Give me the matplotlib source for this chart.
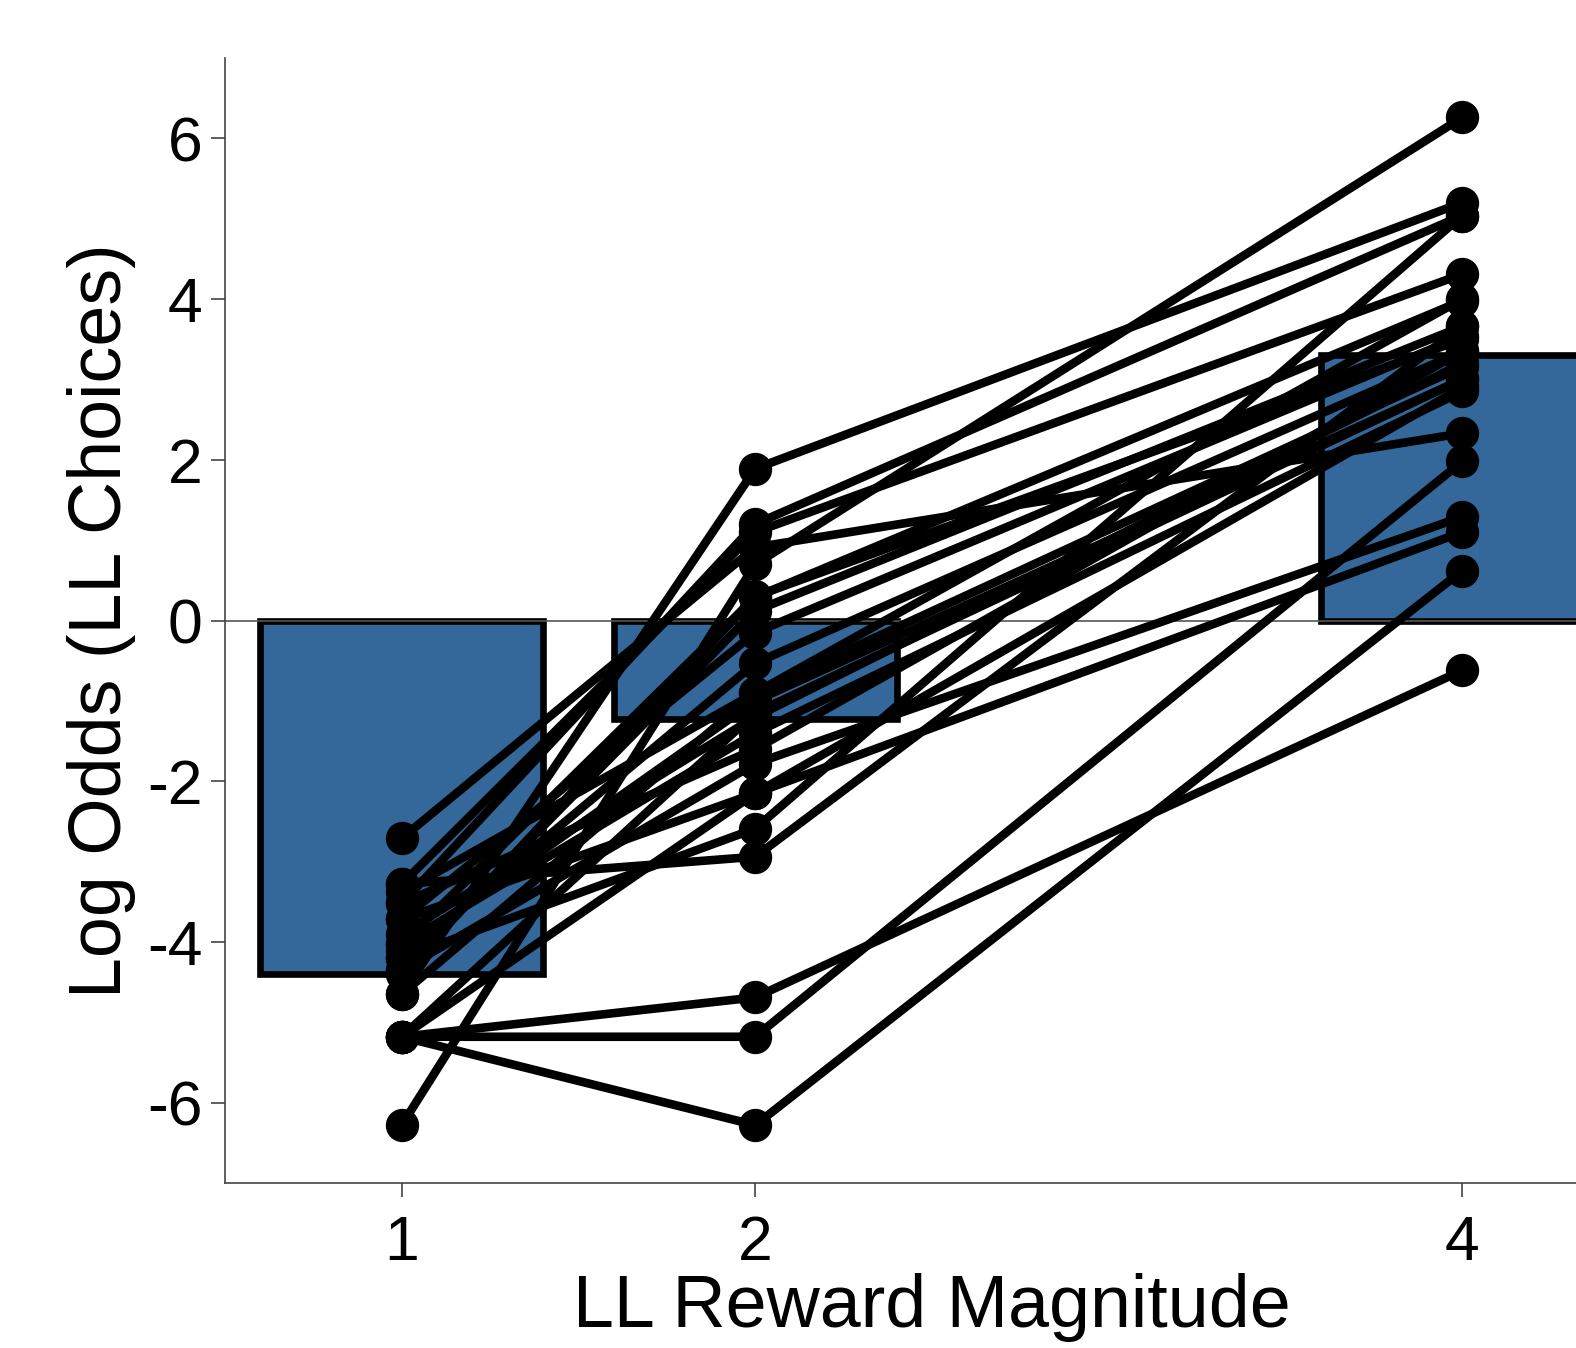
import matplotlib
matplotlib.use("Agg")
import matplotlib.pyplot as plt
import numpy as np

plt.rcParams['font.family'] = ['Liberation Sans', 'DejaVu Sans']
plt.rcParams['axes.unicode_minus'] = False

magnitudes = [1, 2, 4]
tick_labels = ["1", "2", "4"]
mean_log_odds = [-4.4, -1.23, 3.3]

# individual subjects: log odds at magnitude 1, 2, 4
subj_m1 = [-4.65, -3.52, -6.28, -2.71, -3.28, -4.03, -4.35, -3.72, -4.20, -3.38,
           -5.18, -4.03, -3.52, -4.35, -3.72, -4.20, -3.28, -5.18, -5.18, -5.18,
           -4.65, -3.90, -4.40, -5.18, -4.10]
subj_m2 = [1.89, 1.20, 0.70, 0.91, 1.10, 0.29, 0.12, -0.15, -0.53, -0.90,
           -1.15, -1.40, -1.60, -1.78, -2.15, -2.59, -2.94, -4.69, -5.18, -6.28,
           -0.90, -1.20, 0.30, -2.15, -1.00]
subj_m4 = [5.20, 5.04, 6.26, 2.33, 4.31, 3.98, 3.66, 3.54, 3.35, 3.16,
           3.00, 2.85, 3.35, 1.29, 1.10, 5.04, 3.66, -0.62, 1.98, 0.62,
           4.00, 3.20, 3.50, 2.90, 3.00]

fig = plt.figure(figsize=(15.76, 13.48), dpi=100)
ax = fig.add_axes([225/1576, 165/1348, 1414/1576, 1125/1348])

ax.bar(magnitudes, mean_log_odds, width=0.8, color='#35689A', edgecolor='black',
       linewidth=4.8, zorder=1)
ax.axhline(0, color='#555555', linewidth=1.2, zorder=2)

for a, b, c in zip(subj_m1, subj_m2, subj_m4):
    ax.plot(magnitudes, [a, b, c], color='black', linewidth=6.2, marker='o',
            markersize=23, zorder=3, solid_capstyle='round')

ax.set_xlim(0.5, 4.5)
ax.set_ylim(-7, 7)
ax.set_xticks(magnitudes)
ax.set_xticklabels(tick_labels)
ax.set_yticks([-6, -4, -2, 0, 2, 4, 6])
ax.tick_params(axis='both', labelsize=45, length=10, width=1.2, color='#444444',
               direction='out')
ax.tick_params(axis='y', pad=6)
ax.tick_params(axis='x', pad=12)
for s in ['top', 'right']:
    ax.spines[s].set_visible(False)
for s in ['left', 'bottom']:
    ax.spines[s].set_linewidth(1.2)
    ax.spines[s].set_color('#444444')

ax.set_xlabel('LL Reward Magnitude', fontsize=53, labelpad=0)
ax.set_ylabel('Log Odds (LL Choices)', fontsize=53, labelpad=8)

fig.savefig('out.png', dpi=100)
